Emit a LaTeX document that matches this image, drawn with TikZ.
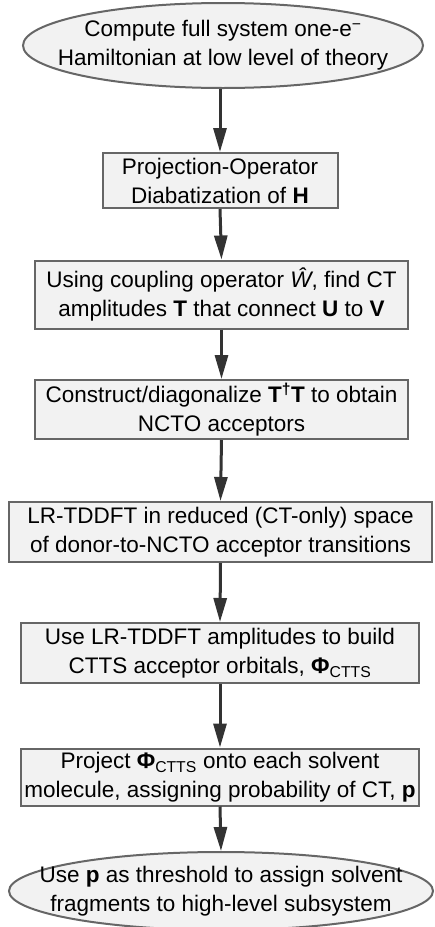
\documentclass[tikz,border=0pt]{standalone}
\usepackage{fontspec}
\setmainfont{Liberation Sans}
\usetikzlibrary{shapes.geometric,arrows.meta}
\definecolor{boxfill}{HTML}{F2F2F2}
\definecolor{boxline}{HTML}{666666}
\definecolor{arrowgray}{HTML}{333333}
\begin{document}
\begin{tikzpicture}[x=1pt,y=-1pt,
  every node/.style={font=\fontsize{22.5}{29}\selectfont, align=center, text=black},
  stepbox/.style={draw=boxline, fill=boxfill, line width=2pt, rectangle, inner sep=0pt},
  terminal/.style={draw=boxline, fill=boxfill, line width=2pt, ellipse, inner sep=0pt},
  flow/.style={draw=arrowgray, line width=3pt, -{Triangle[width=13pt,length=24pt]}},
]
\useasboundingbox (0,0) rectangle (435,927);

% start and end terminals (ellipses drawn at a fixed size, text set on top)
\node[terminal, minimum width=400, minimum height=85] (start) at (223,45.5) {};
\node (startText) at (start.center) {Compute full system one-e\textsuperscript{−}\\Hamiltonian at low level of theory};

% process steps
\node[stepbox, minimum width=235, minimum height=55] (s1) at (220,180.5)
  {Projection-Operator\\Diabatization of \textbf{H}};
\node[stepbox, minimum width=373, minimum height=68] (s2) at (221.5,294.5)
  {Using coupling operator \textit{\^W}, find CT\\amplitudes \textbf{T} that connect \textbf{U} to \textbf{V}};
\node[stepbox, minimum width=373, minimum height=59] (s3) at (221.5,409.5)
  {Construct/diagonalize \textbf{T\textsuperscript{†}T} to obtain\\NCTO acceptors};
\node[stepbox, minimum width=423, minimum height=60] (s4) at (220.5,532)
  {LR-TDDFT in reduced (CT-only) space\\of donor-to-NCTO acceptor transitions};
\node[stepbox, minimum width=398, minimum height=60] (s5) at (220,653)
  {Use LR-TDDFT amplitudes to build\\CTTS acceptor orbitals, \textbf{Φ}\textsubscript{CTTS}};
\node[stepbox, minimum width=398, minimum height=57] (s6) at (220,777)
  {Project \textbf{Φ}\textsubscript{CTTS} onto each solvent\\molecule, assigning probability of CT, \textbf{p}};

\node[terminal, minimum width=424, minimum height=78] (finish) at (221,891) {};
\node (finishText) at (finish.center) {Use \textbf{p} as threshold to assign solvent\\fragments to high-level subsystem};

% connectors
\draw[flow] (start.south -| s1.north) -- (s1.north);
\draw[flow] (s1.south) -- (s2.north);
\draw[flow] (s2.south) -- (s3.north);
\draw[flow] (s3.south) -- (s4.north);
\draw[flow] (s4.south) -- (s5.north);
\draw[flow] (s5.south) -- (s6.north);
\draw[flow] (s6.south) -- (finish.north);
\end{tikzpicture}
\end{document}
